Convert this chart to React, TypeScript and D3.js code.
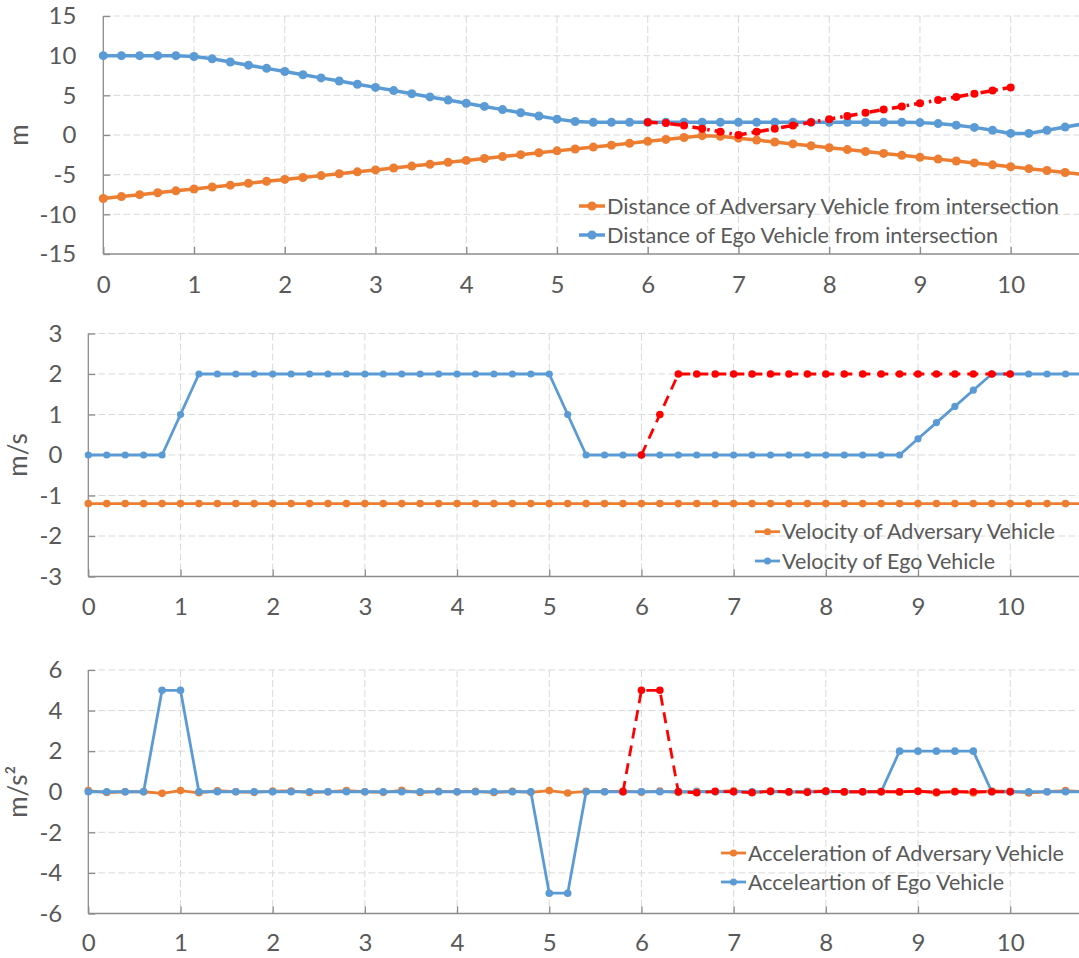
import React, { useEffect, useRef } from "react";
import * as d3 from "d3";

// sample times (s)
const time = [
  0, 0.2, 0.4, 0.6, 0.8, 1.0, 1.2, 1.4, 1.6, 1.8, 2.0, 2.2, 2.4, 2.6, 2.8, 3.0, 3.2, 3.4, 3.6, 3.8,
  4.0, 4.2, 4.4, 4.6, 4.8, 5.0, 5.2, 5.4, 5.6, 5.8, 6.0, 6.2, 6.4, 6.6, 6.8, 7.0, 7.2, 7.4, 7.6, 7.8,
  8.0, 8.2, 8.4, 8.6, 8.8, 9.0, 9.2, 9.4, 9.6, 9.8, 10.0, 10.2, 10.4, 10.6, 10.8,
];
const altTime = [
  6.0, 6.2, 6.4, 6.6, 6.8, 7.0, 7.2, 7.4, 7.6, 7.8, 8.0, 8.2, 8.4, 8.6, 8.8, 9.0, 9.2, 9.4, 9.6, 9.8, 10.0,
];
const altAccTime = [
  5.8, 6.0, 6.2, 6.4, 6.6, 6.8, 7.0, 7.2, 7.4, 7.6, 7.8, 8.0, 8.2, 8.4, 8.6, 8.8, 9.0, 9.2, 9.4, 9.6, 9.8, 10.0,
];

// distance from intersection (m)
const advDistance = [
  -8, -7.76, -7.52, -7.28, -7.04, -6.8, -6.56, -6.32, -6.08, -5.84, -5.6, -5.36, -5.12, -4.88, -4.64,
  -4.4, -4.16, -3.92, -3.68, -3.44, -3.2, -2.96, -2.72, -2.48, -2.24, -2.0, -1.76, -1.52, -1.28, -1.04,
  -0.8, -0.56, -0.32, -0.08, -0.16, -0.4, -0.64, -0.88, -1.12, -1.36, -1.6, -1.84, -2.08, -2.32, -2.56,
  -2.8, -3.04, -3.28, -3.52, -3.76, -4.0, -4.24, -4.48, -4.72, -4.96,
];
const egoDistance = [
  10, 10, 10, 10, 10, 9.9, 9.6, 9.2, 8.8, 8.4, 8.0, 7.6, 7.2, 6.8, 6.4, 6.0, 5.6, 5.2, 4.8, 4.4,
  4.0, 3.6, 3.2, 2.8, 2.4, 2.0, 1.7, 1.6, 1.6, 1.6, 1.6, 1.6, 1.6, 1.6, 1.6, 1.6, 1.6, 1.6, 1.6, 1.6,
  1.6, 1.6, 1.6, 1.6, 1.6, 1.56, 1.44, 1.24, 0.96, 0.6, 0.2, 0.2, 0.6, 1.0, 1.4,
];
const altDistance = [
  1.6, 1.5, 1.2, 0.8, 0.4, 0.0, 0.4, 0.8, 1.2, 1.6, 2.0, 2.4, 2.8, 3.2, 3.6, 4.0, 4.4, 4.8, 5.2, 5.6, 6.0,
];

// velocity (m/s)
const advVelocity = [
  -1.2, -1.2, -1.2, -1.2, -1.2, -1.2, -1.2, -1.2, -1.2, -1.2, -1.2, -1.2, -1.2, -1.2, -1.2, -1.2, -1.2,
  -1.2, -1.2, -1.2, -1.2, -1.2, -1.2, -1.2, -1.2, -1.2, -1.2, -1.2, -1.2, -1.2, -1.2, -1.2, -1.2, -1.2,
  -1.2, -1.2, -1.2, -1.2, -1.2, -1.2, -1.2, -1.2, -1.2, -1.2, -1.2, -1.2, -1.2, -1.2, -1.2, -1.2, -1.2,
  -1.2, -1.2, -1.2, -1.2,
];
const egoVelocity = [
  0, 0, 0, 0, 0, 1, 2, 2, 2, 2, 2, 2, 2, 2, 2, 2, 2, 2, 2, 2, 2, 2, 2, 2, 2, 2, 1, 0, 0, 0, 0, 0, 0, 0,
  0, 0, 0, 0, 0, 0, 0, 0, 0, 0, 0, 0.4, 0.8, 1.2, 1.6, 2.0, 2, 2, 2, 2, 2,
];
const altVelocity = [0, 1, 2, 2, 2, 2, 2, 2, 2, 2, 2, 2, 2, 2, 2, 2, 2, 2, 2, 2, 2];

// acceleration (m/s²)
const advAcceleration = [
  0.06, -0.04, 0, 0, -0.08, 0.06, -0.05, 0.05, 0, -0.03, 0.03, 0.04, -0.04, 0, 0.06, 0, -0.03, 0.07,
  -0.04, 0.02, 0, 0.02, -0.04, 0.02, -0.03, 0.06, -0.06, 0.02, 0, 0.03, -0.02, 0.03, -0.03, 0.02, 0,
  0.05, -0.05, 0.04, -0.03, 0.02, 0.04, -0.02, 0, 0.02, -0.02, 0.04, -0.06, 0.02, -0.06, 0.04, 0.02,
  -0.06, 0, 0.06, 0,
];
const egoAcceleration = [
  0, 0, 0, 0, 5, 5, 0, 0, 0, 0, 0, 0, 0, 0, 0, 0, 0, 0, 0, 0, 0, 0, 0, 0, 0, -5, -5, 0, 0, 0, 0, 0, 0,
  0, 0, 0, 0, 0, 0, 0, 0, 0, 0, 0, 2, 2, 2, 2, 2, 0, 0, 0, 0, 0, 0,
];
const altAcceleration = [
  0, 5, 5, 0, -0.05, 0.02, 0, -0.04, 0.02, 0, -0.03, 0.03, 0, 0, 0, 0, 0.02, -0.02, 0, 0, 0, 0,
];

// tick labels
const xTicks = [0, 1, 2, 3, 4, 5, 6, 7, 8, 9, 10];
const distanceTicks = [-15, -10, -5, 0, 5, 10, 15];
const velocityTicks = [-3, -2, -1, 0, 1, 2, 3];
const accelerationTicks = [-6, -4, -2, 0, 2, 4, 6];

const ORANGE = "#ED7D31";
const BLUE = "#5B9BD5";
const RED = "#FF0000";
const TEXT = "#595959";
const W = 1079;
const H = 958;
const FONT = "Lato, 'Open Sans', sans-serif";

type Series = { t: number[]; v: number[]; color: string; width: number; r: number; dash?: string };
type Panel = {
  left: number;
  right10: number;
  top: number;
  bottom: number;
  domain: [number, number];
  ticks: number[];
  title: string;
  titleX: number;
  tickPad: number;
  labelOffset: number;
  series: Series[];
  legend: { labels: string[]; lengths: number[]; x0: number; x1: number; rows: number[]; width: number; r: number };
};

const App: React.FC = () => {
  const svgRef = useRef<SVGSVGElement>(null);

  useEffect(() => {
    if (!svgRef.current) return;
    const svg = d3.select(svgRef.current);
    svg.selectAll("*").remove();

    const panels: Panel[] = [
      {
        left: 103.3, right10: 1010.7, top: 16, bottom: 254, domain: [-15, 15], ticks: distanceTicks,
        title: "m", titleX: 20, tickPad: 27, labelOffset: 31,
        series: [
          { t: time, v: advDistance, color: ORANGE, width: 3.5, r: 4.5 },
          { t: time, v: egoDistance, color: BLUE, width: 3.5, r: 4.5 },
          { t: altTime, v: altDistance, color: RED, width: 3.5, r: 4, dash: "10,5,2.5,5" },
        ],
        legend: {
          labels: ["Distance of Adversary Vehicle from intersection", "Distance of Ego Vehicle from intersection"],
          lengths: [452, 391], x0: 579, x1: 605, rows: [206, 235], width: 3.5, r: 4.5,
        },
      },
      {
        left: 88.3, right10: 1010.2, top: 333.5, bottom: 576.5, domain: [-3, 3], ticks: velocityTicks,
        title: "m/s", titleX: 19, tickPad: 26, labelOffset: 30.5,
        series: [
          { t: time, v: advVelocity, color: ORANGE, width: 2.8, r: 3.8 },
          { t: time, v: egoVelocity, color: BLUE, width: 2.8, r: 3.6 },
          { t: altTime, v: altVelocity, color: RED, width: 2.8, r: 3.8, dash: "11,7" },
        ],
        legend: {
          labels: ["Velocity of Adversary Vehicle", "Velocity of Ego Vehicle"],
          lengths: [273, 213], x0: 755, x1: 780, rows: [531.7, 561], width: 2.8, r: 3.5,
        },
      },
      {
        left: 88.3, right10: 1010.2, top: 670, bottom: 913.5, domain: [-6, 6], ticks: accelerationTicks,
        title: "m/s²", titleX: 19, tickPad: 26, labelOffset: 29.5,
        series: [
          { t: time, v: advAcceleration, color: ORANGE, width: 2.8, r: 3.8 },
          { t: time, v: egoAcceleration, color: BLUE, width: 2.8, r: 3.8 },
          { t: altAccTime, v: altAcceleration, color: RED, width: 2.8, r: 3.8, dash: "11,7" },
        ],
        legend: {
          labels: ["Acceleration of Adversary Vehicle", "Acceleartion of Ego Vehicle"],
          lengths: [316, 256], x0: 721, x1: 746, rows: [853, 882], width: 2.8, r: 3.5,
        },
      },
    ];

    const fmt = (d: d3.NumberValue) => String(d);

    panels.forEach((p) => {
      const x = d3.scaleLinear().domain([0, 10]).range([p.left, p.right10]);
      const y = d3.scaleLinear().domain(p.domain).range([p.bottom, p.top]);
      const g = svg.append("g");

      // dashed grid
      g.selectAll(".hgrid")
        .data(p.ticks.filter((d) => d !== p.domain[0]))
        .join("line")
        .attr("x1", p.left).attr("x2", W)
        .attr("y1", (d) => y(d)).attr("y2", (d) => y(d))
        .attr("stroke", "#d9d9d9").attr("stroke-width", 1).attr("stroke-dasharray", "7,3");
      g.selectAll(".vgrid")
        .data(xTicks.filter((d) => d > 0))
        .join("line")
        .attr("x1", (d) => x(d)).attr("x2", (d) => x(d))
        .attr("y1", p.top).attr("y2", p.bottom)
        .attr("stroke", "#d9d9d9").attr("stroke-width", 1).attr("stroke-dasharray", "7,3");

      // axes with inside ticks
      const xAxis = g.append("g")
        .attr("transform", `translate(0,${p.bottom})`)
        .call(d3.axisBottom(x).tickValues(xTicks).tickSize(-7).tickFormat(fmt));
      xAxis.select(".domain").remove();
      xAxis.selectAll("text").attr("y", p.labelOffset).attr("dy", "0.35em");

      const yAxis = g.append("g")
        .attr("transform", `translate(${p.left},0)`)
        .call(d3.axisLeft(y).tickValues(p.ticks).tickSize(-7).tickPadding(p.tickPad).tickFormat(fmt));
      yAxis.select(".domain").remove();

      [xAxis, yAxis].forEach((a) => {
        a.selectAll("line").attr("stroke", "#8c8c8c").attr("stroke-width", 1.3);
        a.selectAll("text")
          .attr("fill", TEXT).attr("font-family", FONT).attr("font-size", 24);
      });

      g.append("line")
        .attr("x1", p.left).attr("x2", W).attr("y1", p.bottom).attr("y2", p.bottom)
        .attr("stroke", "#8c8c8c").attr("stroke-width", 1.3);
      g.append("line")
        .attr("x1", p.left).attr("x2", p.left).attr("y1", p.top).attr("y2", p.bottom)
        .attr("stroke", "#8c8c8c").attr("stroke-width", 1.3);

      // axis title
      g.append("text")
        .attr("transform", `translate(${p.titleX},${(p.top + p.bottom) / 2}) rotate(-90)`)
        .attr("text-anchor", "middle").attr("dy", "0.3em")
        .attr("fill", TEXT).attr("font-family", FONT).attr("font-size", 26)
        .text(p.title);

      // series
      p.series.forEach((s) => {
        const pts = s.t.map((t, i) => [t, s.v[i]] as [number, number]);
        const line = d3.line<[number, number]>().x((d) => x(d[0])).y((d) => y(d[1]));
        g.append("path")
          .datum(pts)
          .attr("fill", "none").attr("stroke", s.color).attr("stroke-width", s.width)
          .attr("stroke-linejoin", "round")
          .attr("stroke-dasharray", s.dash ?? null)
          .attr("d", line);
        g.selectAll(null)
          .data(pts)
          .join("circle")
          .attr("cx", (d) => x(d[0])).attr("cy", (d) => y(d[1]))
          .attr("r", s.r).attr("fill", s.color);
      });

      // legend
      const colors = [ORANGE, BLUE];
      p.legend.labels.forEach((label, i) => {
        const ry = p.legend.rows[i];
        g.append("line")
          .attr("x1", p.legend.x0).attr("x2", p.legend.x1).attr("y1", ry).attr("y2", ry)
          .attr("stroke", colors[i]).attr("stroke-width", p.legend.width);
        g.append("circle")
          .attr("cx", (p.legend.x0 + p.legend.x1) / 2).attr("cy", ry)
          .attr("r", p.legend.r).attr("fill", colors[i]);
        g.append("text")
          .attr("x", p.legend.x1 + 2).attr("y", ry).attr("dy", "0.35em")
          .attr("fill", TEXT).attr("font-family", FONT).attr("font-size", 22)
          .attr("textLength", p.legend.lengths[i]).attr("lengthAdjust", "spacingAndGlyphs")
          .text(label);
      });
    });
  }, []);

  return (
    <svg
      ref={svgRef}
      width={W}
      height={H}
      style={{ position: "absolute", left: 0, top: 0, background: "#fff" }}
    ></svg>
  );
};

export default App;
